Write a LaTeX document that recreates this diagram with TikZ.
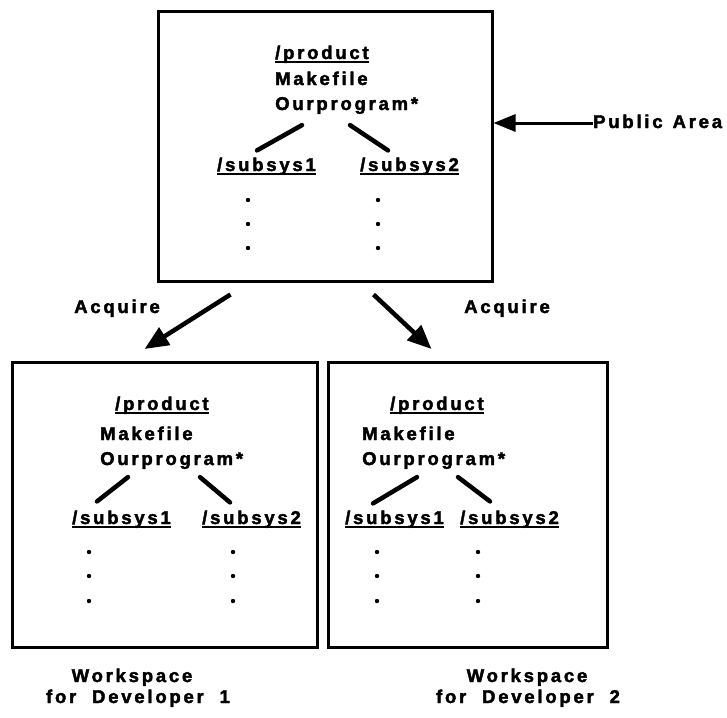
\documentclass[tikz,border=0pt]{standalone}
\usepackage{fontspec}
\setmainfont{Liberation Sans}[BoldFont={Liberation Sans Bold},BoldFeatures={FakeBold=2.2,LetterSpace=15},LetterSpace=15]
\usetikzlibrary{arrows.meta,calc}
\newcommand\ulin[1]{\setbox0=\hbox{#1}\leavevmode\rlap{\raisebox{-3.8pt}{\rule{\wd0}{1.9pt}}}\box0}
\tikzset{
  txt/.style={inner sep=0pt,font=\fontsize{18.5}{22}\selectfont\bfseries,anchor=base west},
  ctxt/.style={txt,anchor=base},
  boxx/.style={draw,line width=3pt,inner sep=0pt},
  treeline/.style={line width=4.5pt,line cap=round},
  bigarrow/.style={line width=4.5pt,-{Triangle[length=24pt,width=20pt]}},
  padarrow/.style={line width=3pt,-{Triangle[length=22pt,width=17pt]}},
  dotf/.style={fill=black}
}
\begin{document}
\begin{tikzpicture}[x=1pt,y=-1pt]
\useasboundingbox (0,0) rectangle (727,717);
% boxes
\node[boxx,minimum width=334pt,minimum height=269pt] (top) at (325,146.5) {};
\node[boxx,minimum width=305pt,minimum height=285pt] (wl) at (164.5,505) {};
\node[boxx,minimum width=279pt,minimum height=285pt] (wr) at (467.5,505) {};
% top box contents
\node[txt] (tp) at (275,59) {\ulin{/product}};
\node[txt] (tm) at (275,85) {Makefile};
\node[txt] (to) at (275,110) {Ourprogram*};
\node[txt] (ts1) at (217,171) {\ulin{/subsys1}};
\node[txt] (ts2) at (360,171) {\ulin{/subsys2}};
\draw[treeline] ($(to.south west)+(27,11)$) -- ($(ts1.north west)+(40,-7)$);
\draw[treeline] ($(to.south west)+(75,11)$) -- ($(ts2.north west)+(28,-7)$);
\foreach \y in {200,224,248} {\fill[dotf] (248,\y) circle (2.2); \fill[dotf] (378,\y) circle (2.2);}
% left workspace
\node[txt] (lp) at (115,410) {\ulin{/product}};
\node[txt] (lm) at (100,440) {Makefile};
\node[txt] (lo) at (100,465) {Ourprogram*};
\node[txt] (ls1) at (72,524) {\ulin{/subsys1}};
\node[txt] (ls2) at (202,524) {\ulin{/subsys2}};
\draw[treeline] ($(lo.south west)+(28,8)$) -- ($(ls1.north west)+(25,-9)$);
\draw[treeline] ($(lo.south west)+(100,8)$) -- ($(ls2.north west)+(28,-8)$);
\foreach \y in {552,576,601} {\fill[dotf] (89,\y) circle (2.2); \fill[dotf] (233,\y) circle (2.2);}
% right workspace
\node[txt] (rp) at (390,410) {\ulin{/product}};
\node[txt] (rm) at (362,440) {Makefile};
\node[txt] (ro) at (362,465) {Ourprogram*};
\node[txt] (rs1) at (345,524) {\ulin{/subsys1}};
\node[txt] (rs2) at (460,524) {\ulin{/subsys2}};
\draw[treeline] ($(ro.south west)+(55,8)$) -- ($(rs1.north west)+(28,-7)$);
\draw[treeline] ($(ro.south west)+(96,8)$) -- ($(rs2.north west)+(30,-9)$);
\foreach \y in {552,576,601} {\fill[dotf] (377,\y) circle (2.2); \fill[dotf] (478,\y) circle (2.2);}
% public area
\node[txt] (pa) at (593,128) {Public\hspace{10pt}Area};
\coordinate (pae) at ($(pa.base west)+(0,-5)$);
\draw[padarrow] (pae) -- (pae -| top.east);
% acquire
\node[ctxt] (aq1) at (117,313) {Acquire};
\node[ctxt] (aq2) at (507,313) {Acquire};
\draw[bigarrow] ($(top.south west)+(74,12)$) -- ($(wl.north west)+(134,-12)$);
\draw[bigarrow] ($(top.south west)+(217,12)$) -- ($(wr.north west)+(105,-12)$);
% labels
\node[ctxt] (w1a) at (132,682) {Workspace};
\node[ctxt] (w1b) at (138,703) {for\ \ Developer\ \ 1};
\node[ctxt] (w2a) at (527,682) {Workspace};
\node[ctxt] (w2b) at (528,703) {for\ \ Developer\ \ 2};
\end{tikzpicture}
\end{document}
